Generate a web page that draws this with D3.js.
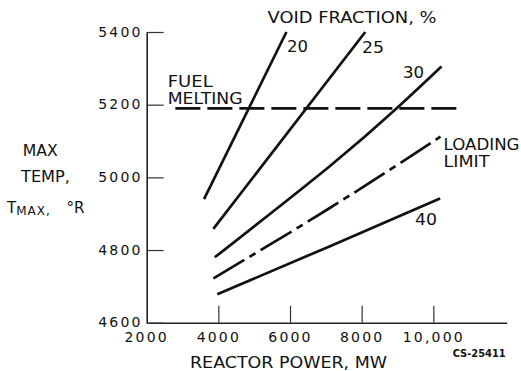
<!DOCTYPE html>
<html>
<head>
<meta charset="utf-8">
<script src="https://cdn.jsdelivr.net/npm/d3@7"></script>
<style>
  html, body { margin: 0; padding: 0; background: #fff; }
  svg { display: block; }
  text { font-family: "DejaVu Sans", sans-serif; fill: #111; }
</style>
</head>
<body>
<svg id="chart" width="521" height="371"></svg>
<script>
// Reactor power (MW) vs. maximum fuel temperature (°R)
const xTicks = [2000, 4000, 6000, 8000, 10000];
const xTickLabels = ["2000", "4000", "6000", "8000", "10,000"];
const yTicks = [4600, 4800, 5000, 5200, 5400];
const yTickLabels = ["4600", "4800", "5000", "5200", "5400"];

// Void fraction curves: [power MW, T max °R]
const void20 = [[3600, 4940], [5900, 5400]];
const void25 = [[3860, 4858], [8100, 5400]];
const void30 = [[3900, 4780], [7100, 5030], [8980, 5190], [10230, 5305]];
const void40 = [[3970, 4678], [7100, 4810], [10190, 4942]];
const loadingLimit = [[3860, 4722], [7100, 4915], [10200, 5112]];
const fuelMelting = [[2800, 5190], [10830, 5190]];

const svg = d3.select("#chart");

const x = d3.scaleLinear().domain([2000, 12048]).range([146.7, 506.7]);
const y = d3.scaleLinear().domain([4600, 5400]).range([322.7, 32]);

const tickFont = 14;

// Axes: ticks point inward, labels outside
const xAxis = d3.axisBottom(x)
  .tickValues(xTicks.slice(1))
  .tickFormat((d) => xTickLabels[xTicks.indexOf(d)])
  .tickSizeInner(-17).tickSizeOuter(0).tickPadding(9);
const yAxis = d3.axisLeft(y)
  .tickValues(yTicks)
  .tickFormat((d) => yTickLabels[yTicks.indexOf(d)])
  .tickSizeInner(-17).tickSizeOuter(0).tickPadding(4);

const gx = svg.append("g").attr("transform", `translate(0,${y(4600)})`).call(xAxis);
const gy = svg.append("g").attr("transform", `translate(${x(2000)},0)`).call(yAxis);

[gx, gy].forEach((g) => {
  g.select(".domain").attr("stroke", "#222").attr("stroke-width", 1.6);
  g.selectAll(".tick line").attr("stroke", "#333").attr("stroke-width", 1.2);
  g.selectAll(".tick text")
    .attr("font-family", "DejaVu Sans, sans-serif")
    .attr("font-size", tickFont)
    .attr("letter-spacing", 2.2)
    .attr("fill", "#111");
});
gy.selectAll(".tick text").attr("dy", "0.3em");
gx.selectAll(".tick text").attr("dy", "0.71em");

// 2000 label sits under the y axis
gx.append("text")
  .attr("x", x(2000)).attr("y", 9).attr("dy", "0.71em")
  .attr("text-anchor", "middle")
  .attr("font-size", tickFont).attr("letter-spacing", 2.2)
  .attr("font-family", "DejaVu Sans, sans-serif")
  .attr("fill", "#111")
  .text(xTickLabels[0]);

const line = d3.line().x((d) => x(d[0])).y((d) => y(d[1])).curve(d3.curveNatural);

const curves = [
  { data: void20, dash: null },
  { data: void25, dash: null },
  { data: void30, dash: null },
  { data: void40, dash: null },
  { data: loadingLimit, dash: "36 6 7 6" },
  { data: fuelMelting, dash: "25 7" }
];

svg.append("g").selectAll("path")
  .data(curves)
  .join("path")
  .attr("d", (c) => line(c.data))
  .attr("fill", "none")
  .attr("stroke", "#111")
  .attr("stroke-width", 2.7)
  .attr("stroke-dasharray", (c) => c.dash);

// Labels
const labels = [
  { t: "VOID FRACTION, %", x: 267.5, y: 23.3, w: 169 },
  { t: "20", x: 287, y: 52, w: 21 },
  { t: "25", x: 362, y: 53, w: 22 },
  { t: "30", x: 403, y: 78, w: 21 },
  { t: "40", x: 415, y: 225, w: 22 },
  { t: "LOADING", x: 443.5, y: 150, w: 76 },
  { t: "LIMIT", x: 443.5, y: 167, w: 46 },
  { t: "FUEL", x: 167.7, y: 87, w: 45 },
  { t: "MELTING", x: 167.7, y: 104, w: 75 },
  { t: "MAX", x: 22.7, y: 156, w: 35 },
  { t: "TEMP,", x: 21, y: 182, w: 49 },
  { t: "REACTOR POWER, MW", x: 190, y: 368.3, w: 197 }
];

svg.append("g").selectAll("text")
  .data(labels)
  .join("text")
  .attr("x", (d) => d.x)
  .attr("y", (d) => d.y)
  .attr("font-size", 15)
  .attr("textLength", (d) => d.w)
  .attr("lengthAdjust", "spacingAndGlyphs")
  .text((d) => d.t);

// T_MAX, °R
const tmax = svg.append("text").attr("y", 213).attr("font-size", 15);
tmax.append("tspan").attr("x", 7).text("T");
tmax.append("tspan").attr("font-size", 12).attr("dy", 2).attr("letter-spacing", 1).text("MAX,");
tmax.append("tspan").attr("x", 66.5).attr("dy", -2).text("°R");

svg.append("text")
  .attr("x", 452.7).attr("y", 357)
  .attr("font-size", 10.5).attr("font-weight", "bold")
  .attr("textLength", 53).attr("lengthAdjust", "spacingAndGlyphs")
  .text("CS-25411");
</script>
</body>
</html>
